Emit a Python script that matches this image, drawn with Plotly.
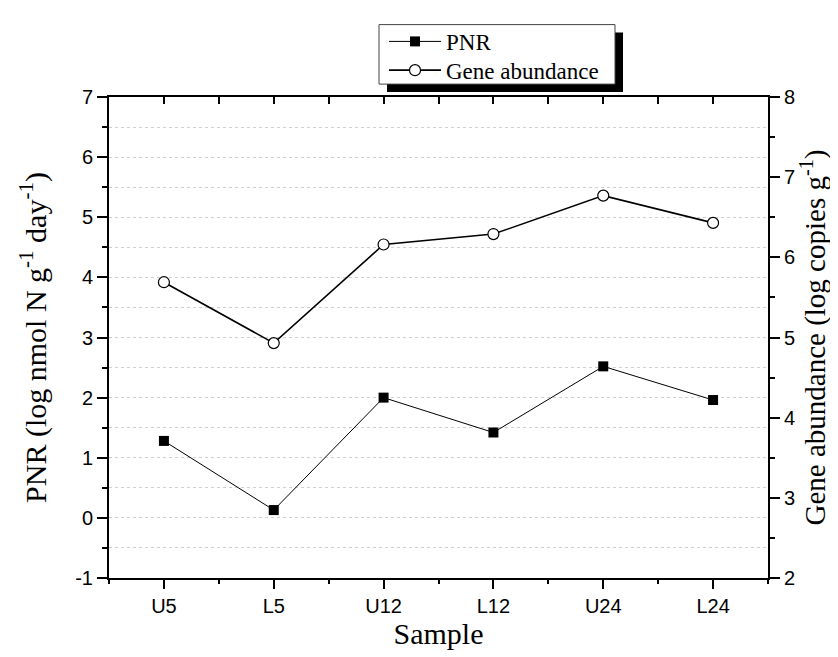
import plotly.graph_objects as go

samples = ["U5", "L5", "U12", "L12", "U24", "L24"]
pnr = [1.28, 0.13, 2.00, 1.42, 2.52, 1.96]
gene_abundance = [5.69, 4.93, 6.16, 6.29, 6.77, 6.43]
left_ticks = [-1, 0, 1, 2, 3, 4, 5, 6, 7]
left_labels = ["-1", "0", "1", "2", "3", "4", "5", "6", "7"]
right_ticks = [2, 3, 4, 5, 6, 7, 8]
right_labels = ["2", "3", "4", "5", "6", "7", "8"]

W, H = 838, 657
L, R, T, B = 101, 78, 85, 87
pw, ph = W - L - R, H - T - B

def px(xp):
    return (xp - L) / pw

def py(yp):
    return (H - B - yp) / ph

serif = "Liberation Serif, Times New Roman, serif"
sans = "Liberation Sans, Arial, sans-serif"

fig = go.Figure()
fig.add_trace(go.Scatter(
    x=samples, y=pnr, name="PNR", mode="lines+markers", legend="legend",
    line=dict(color="black", width=1),
    marker=dict(symbol="square", size=10, color="black"),
))
fig.add_trace(go.Scatter(
    x=samples, y=gene_abundance, name="Gene abundance", mode="lines+markers",
    yaxis="y2", legend="legend2",
    line=dict(color="black", width=1.6),
    marker=dict(symbol="circle", size=11, color="white", line=dict(color="black", width=1.2)),
))

half_steps = [i * 0.5 - 0.5 for i in range(13)]
leg_font = dict(family=serif, size=23, color="black")

fig.update_layout(
    width=W, height=H,
    margin=dict(l=L, r=R, t=T, b=B),
    paper_bgcolor="white", plot_bgcolor="white",
    showlegend=True,
    legend=dict(
        x=px(376), y=py(29), xanchor="left", yanchor="middle",
        bgcolor="rgba(0,0,0,0)", borderwidth=0, font=leg_font, itemwidth=52,
    ),
    legend2=dict(
        x=px(376), y=py(58), xanchor="left", yanchor="middle",
        bgcolor="rgba(0,0,0,0)", borderwidth=0, font=leg_font, itemwidth=52,
    ),
    xaxis=dict(
        type="category", range=[-0.5, 5.5],
        showline=True, linecolor="black", linewidth=2,
        ticks="outside", ticklen=9, tickwidth=2, tickcolor="black",
        showgrid=False, zeroline=False,
        tickfont=dict(family=sans, size=20, color="black"),
        title=dict(text="Sample", font=dict(family=serif, size=30, color="black"), standoff=6),
    ),
    xaxis3=dict(
        overlaying="x", range=[-0.5, 5.5], tickmode="array", tickvals=half_steps[::2],
        ticks="outside", ticklen=5, tickwidth=2, tickcolor="black",
        showticklabels=False, showgrid=False, zeroline=False, showline=False,
        anchor="y", side="bottom",
    ),
    xaxis4=dict(
        overlaying="x", range=[-0.5, 5.5], tickmode="array", tickvals=half_steps,
        ticks="inside", ticklen=7, tickwidth=2, tickcolor="black",
        showticklabels=False, showgrid=False, zeroline=False,
        showline=True, linecolor="black", linewidth=2,
        anchor="y", side="top",
    ),
    yaxis=dict(
        range=[-1, 7], tickmode="array", tickvals=left_ticks, ticktext=left_labels,
        showline=True, linecolor="black", linewidth=2,
        ticks="outside", ticklen=10, tickwidth=2, tickcolor="black",
        showgrid=False, zeroline=False,
        minor=dict(dtick=0.5, tick0=0, ticks="outside", ticklen=5, tickwidth=2, tickcolor="black",
                   showgrid=True, gridcolor="#cfcfcf", griddash="dot", gridwidth=1),
        tickfont=dict(family=sans, size=20, color="black"),
        title=dict(text="PNR (log nmol N g<sup>-1</sup> day<sup>-1</sup>)",
                   font=dict(family=serif, size=30, color="black"), standoff=20),
    ),
    yaxis2=dict(
        overlaying="y", side="right", range=[2, 8],
        tickmode="array", tickvals=right_ticks, ticktext=right_labels,
        showline=True, linecolor="black", linewidth=2,
        ticks="outside", ticklen=10, tickwidth=2, tickcolor="black",
        showgrid=False, zeroline=False,
        minor=dict(dtick=0.5, tick0=0, ticks="outside", ticklen=5, tickwidth=2, tickcolor="black",
                   showgrid=False),
        tickfont=dict(family=sans, size=20, color="black"),
        title=dict(text="Gene abundance (log copies g<sup>-1</sup>)",
                   font=dict(family=serif, size=29, color="black"), standoff=1),
    ),
    shapes=[
        dict(type="rect", xref="paper", yref="paper", layer="above",
             x0=px(379), x1=px(615), y0=py(80), y1=py(20),
             fillcolor="black", line=dict(width=0)),
        dict(type="rect", xref="paper", yref="paper", layer="above",
             x0=px(371), x1=px(607), y0=py(72), y1=py(12),
             fillcolor="white", line=dict(color="#444", width=1)),
    ],
)

fig.add_trace(go.Scatter(x=[None], y=[None], xaxis="x3", showlegend=False, hoverinfo="skip"))
fig.add_trace(go.Scatter(x=[None], y=[None], xaxis="x4", showlegend=False, hoverinfo="skip"))

fig.write_html("out.html")
